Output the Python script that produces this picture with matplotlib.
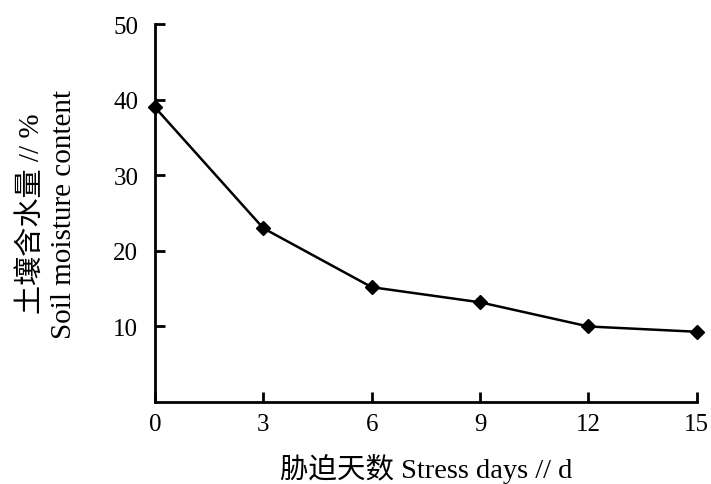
import matplotlib
matplotlib.use("Agg")
import matplotlib.pyplot as plt

days = [0, 3, 6, 9, 12, 15]
moisture = [39.0, 23.0, 15.2, 13.2, 10.0, 9.3]
xticks = [0, 3, 6, 9, 12, 15]
yticks = [10, 20, 30, 40, 50]

plt.rcParams['font.family'] = ['Liberation Serif', 'Noto Sans CJK SC']

fig = plt.figure(figsize=(7.11, 4.85), dpi=100)
ax = fig.add_axes([0.218, 0.169, 0.762, 0.779])
ax.plot(days, moisture, color='black', lw=1.8, marker='D', ms=7.5,
        mfc='black', mec='black', clip_on=False, zorder=5)
ax.set_xlim(0, 15)
ax.set_ylim(0, 50)
ax.set_xticks(xticks)
ax.set_yticks(yticks)
ax.spines['top'].set_visible(False)
ax.spines['right'].set_visible(False)
for s in ['left', 'bottom']:
    ax.spines[s].set_linewidth(2)
ax.tick_params(direction='in', length=7, width=2, labelsize=18, pad=8)
ax.tick_params(axis='y', pad=12)
ax.set_xlabel('胁迫天数 Stress days // d', fontsize=20.5, labelpad=13)
ax.set_ylabel('土壤含水量 // %\nSoil moisture content', fontsize=21, labelpad=26, linespacing=1.3)
fig.savefig('out.png', dpi=100)
